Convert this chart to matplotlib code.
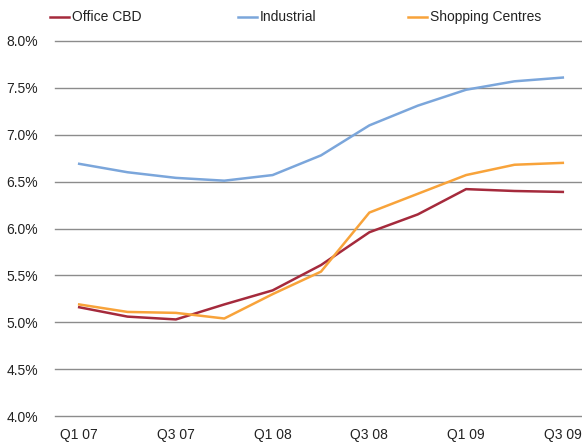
import matplotlib.pyplot as plt
from matplotlib.lines import Line2D
from matplotlib.ticker import FuncFormatter

plt.rcParams['font.family'] = ['Liberation Sans', 'DejaVu Sans']
plt.rcParams['font.size'] = 10

# 분기별 수익률 (%)
quarters = ['Q1 07', 'Q2 07', 'Q3 07', 'Q4 07', 'Q1 08', 'Q2 08',
            'Q3 08', 'Q4 08', 'Q1 09', 'Q2 09', 'Q3 09']
office_cbd = [5.16, 5.06, 5.03, 5.19, 5.34, 5.61, 5.96, 6.15, 6.42, 6.40, 6.39]
industrial = [6.69, 6.60, 6.54, 6.51, 6.57, 6.78, 7.10, 7.31, 7.48, 7.57, 7.61]
shopping = [5.19, 5.11, 5.10, 5.04, 5.30, 5.54, 6.17, 6.37, 6.57, 6.68, 6.70]

series_names = ['Office CBD', 'Industrial', 'Shopping Centres']
colors = ['#A52A3C', '#7BA6DB', '#F8A33A']

W, H = 582, 446
fig = plt.figure(figsize=(W / 100, H / 100), dpi=100)
ax = fig.add_axes([55 / W, 1 - 416 / H, 532 / W, 375 / H])

x = list(range(len(quarters)))
for vals, c in zip([office_cbd, industrial, shopping], colors):
    ax.plot(x, vals, color=c, lw=1.8, zorder=3)

ax.set_xlim(-0.5, len(quarters) - 0.5)
ax.set_ylim(4.0, 8.0)
ax.set_yticks([4.0 + 0.5 * i for i in range(9)])
ax.yaxis.set_major_formatter(FuncFormatter(lambda v, p: f'{v:.1f}%'))
ax.grid(axis='y', color='#8C8C8C', lw=1.0)
for gl in ax.get_ygridlines():
    gl.set_clip_on(False)
ax.set_xticks(x[::2])
ax.set_xticklabels(quarters[::2])
ax.tick_params(length=0, colors='#222222', labelsize=10)
ax.tick_params(axis='y', pad=12)
ax.tick_params(axis='x', pad=9)
for s in ax.spines.values():
    s.set_visible(False)

# 범례 (상단 가로 배치)
leg_x = [50, 238, 408]
for name, c, lx in zip(series_names, colors, leg_x):
    yy = 1 - 17 / H
    fig.add_artist(Line2D([lx / W, (lx + 19) / W], [yy, yy], color=c, lw=1.8))
    fig.text((lx + 22) / W, yy, name, va='center', ha='left', fontsize=10, color='#222222')

fig.savefig('out.png', dpi=100)
